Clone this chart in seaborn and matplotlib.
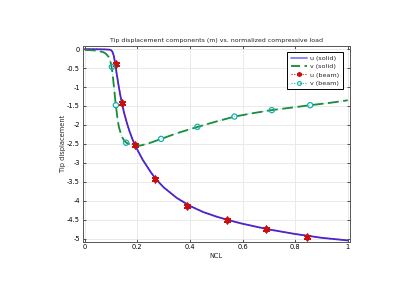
import numpy as np
import pandas as pd
import matplotlib
matplotlib.use("Agg")
import matplotlib.pyplot as plt
from matplotlib.lines import Line2D
import seaborn as sns

# ---- data ----
ncl_u = [0.0, 0.05, 0.08, 0.095, 0.1, 0.105, 0.11, 0.115, 0.12, 0.13, 0.14, 0.15,
         0.16, 0.17, 0.18, 0.19, 0.2, 0.22, 0.25, 0.27, 0.3, 0.35, 0.4, 0.45,
         0.5, 0.55, 0.6, 0.7, 0.8, 0.85, 0.9, 1.0]
u_solid = [0.0, -0.003, -0.008, -0.015, -0.03, -0.07, -0.17, -0.36, -0.6, -1.03, -1.4,
           -1.7, -1.95, -2.17, -2.36, -2.52, -2.66, -2.92, -3.24, -3.43, -3.65, -3.93,
           -4.14, -4.3, -4.42, -4.52, -4.61, -4.76, -4.88, -4.93, -4.98, -5.05]

ncl_v = [0.0, 0.03, 0.05, 0.07, 0.08, 0.09, 0.095, 0.1, 0.105, 0.11, 0.115, 0.12,
         0.125, 0.13, 0.14, 0.15, 0.16, 0.18, 0.2, 0.22, 0.25, 0.29, 0.35, 0.43,
         0.5, 0.57, 0.64, 0.71, 0.79, 0.857, 0.93, 1.0]
v_solid = [-0.02, -0.03, -0.045, -0.08, -0.12, -0.2, -0.28, -0.4, -0.62, -0.95, -1.3,
           -1.6, -1.88, -2.07, -2.3, -2.42, -2.48, -2.54, -2.56, -2.53, -2.47, -2.37,
           -2.22, -2.05, -1.91, -1.78, -1.69, -1.61, -1.54, -1.48, -1.42, -1.35]

ncl_ub = [0.117, 0.143, 0.19, 0.267, 0.39, 0.54, 0.69, 0.845]
u_beam = [-0.38, -1.43, -2.52, -3.43, -4.13, -4.5, -4.76, -4.95]

ncl_vb = [0.103, 0.118, 0.157, 0.29, 0.428, 0.569, 0.711, 0.857]
v_beam = [-0.47, -1.48, -2.47, -2.37, -2.05, -1.78, -1.61, -1.48]

labels = ["u (solid)", "v (solid)", "u (beam)", "v (beam)"]
title = "Tip displacement components (m) vs. normalized compressive load"

C_U = "#2a2aff"
C_V = "#178a30"
C_UB = "#c81010"
C_VB = "#16b0b0"

sns.set_theme(style="whitegrid")
plt.rcParams["font.family"] = ["DejaVu Sans"]

fig = plt.figure(figsize=(4.2, 2.9), dpi=100)
ax = fig.add_axes([0.197, 0.167, 0.636, 0.674])

sns.lineplot(x=ncl_u, y=u_solid, ax=ax, color=C_U, lw=1.3, sort=False)
sns.lineplot(x=ncl_v, y=v_solid, ax=ax, color=C_V, lw=1.3, sort=False,
             dashes=False, linestyle=(0, (6, 2.5)))
sns.lineplot(x=ncl_u, y=u_solid, ax=ax, color=C_UB, lw=0.9, sort=False,
             linestyle=(0, (1, 2)))
sns.lineplot(x=ncl_v, y=v_solid, ax=ax, color=C_VB, lw=0.7, sort=False,
             linestyle=(0, (1, 2)), alpha=0.5)
sns.scatterplot(x=ncl_ub, y=u_beam, ax=ax, marker=(6, 2, 0), s=20,
                edgecolor=C_UB, facecolor=C_UB, linewidth=1.3, zorder=5)
sns.scatterplot(x=ncl_vb, y=v_beam, ax=ax, marker="o", s=14,
                facecolor="none", edgecolor=C_VB, linewidth=0.9, zorder=5)

ax.set_xlim(-0.008, 1.008)
ax.set_ylim(-5.08, 0.08)
ax.set_xticks([0, 0.2, 0.4, 0.6, 0.8, 1.0])
ax.set_xticklabels(["0", "0.2", "0.4", "0.6", "0.8", "1"])
yt = [0, -0.5, -1, -1.5, -2, -2.5, -3, -3.5, -4, -4.5, -5]
ax.set_yticks(yt)
ax.set_yticklabels(["0", "-0.5", "-1", "-1.5", "-2", "-2.5", "-3", "-3.5", "-4", "-4.5", "-5"])
ax.tick_params(axis="both", labelsize=4.8, direction="in", length=2.5, width=0.6,
               colors="#333333", pad=2, left=True, bottom=True, right=True, top=True)
ax.tick_params(labelcolor="black")
ax.grid(True, color="#e6e6e6", lw=0.6)
for s in ax.spines.values():
    s.set_visible(True)
    s.set_color("#555555")
    s.set_linewidth(0.7)
ax.set_facecolor("white")

ax.set_title(title, fontsize=4.5, pad=3)
ax.set_xlabel("NCL", fontsize=4.8, labelpad=2)
ax.set_ylabel("Tip displacement", fontsize=4.8, labelpad=1)

handles = [
    Line2D([], [], color=C_U, lw=1.3, alpha=0.6),
    Line2D([], [], color=C_V, lw=1.3, linestyle=(0, (5, 2.5))),
    Line2D([], [], color=C_UB, lw=0.8, linestyle=(0, (1, 1.5)), marker=(6, 2, 0),
           markersize=3.2, markeredgewidth=1.2),
    Line2D([], [], color=C_VB, lw=0.8, linestyle=(0, (1, 1.5)), marker="o",
           markersize=2.8, markerfacecolor="none", markeredgewidth=0.8),
]
leg = ax.legend(handles, labels, loc="upper right", bbox_to_anchor=(0.985, 0.985),
                fontsize=4.6, frameon=True, fancybox=False, framealpha=1,
                edgecolor="black", handlelength=2.6, borderpad=0.5,
                labelspacing=0.45, handletextpad=0.5)
leg.get_frame().set_linewidth(0.7)

fig.savefig("out.png", dpi=100)
